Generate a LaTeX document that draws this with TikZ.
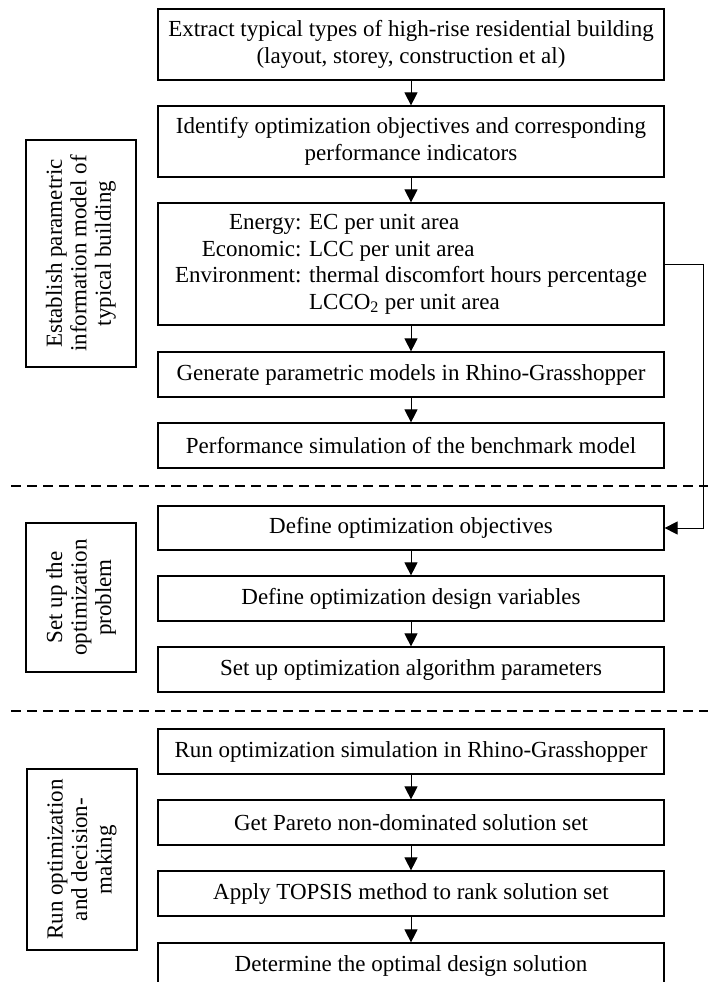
\documentclass[tikz,border=0pt]{standalone}
\usepackage{fontspec}
\setmainfont{Liberation Serif}
\usetikzlibrary{arrows.meta}
\begin{document}
\begin{tikzpicture}[x=1pt,y=-1pt,
  txt/.style={font=\fontsize{23}{26.5}\selectfont},
  box/.style={draw, line width=1.2pt, minimum width=506pt, inner sep=0pt, align=center, txt},
  lab/.style={draw, line width=1.2pt, rotate=90, minimum height=110pt, inner sep=0pt, align=center, font=\fontsize{23}{24.5}\selectfont},
  arr/.style={line width=1pt, -{Triangle[length=13pt,width=13pt]}},
  sep/.style={line width=2.5pt, dash pattern=on 10pt off 6pt}]
\useasboundingbox (0,0) rectangle (708,982);
\clip (0,0) rectangle (708,982);
% main column
\node[box, minimum height=71pt] (B1) at (411,44.5) {Extract typical types of high-rise residential building\\(layout, storey, construction et al)};
\node[box, minimum height=71pt] (B2) at (411,141.5) {Identify optimization objectives and corresponding\\performance indicators};
\node[box, minimum height=122pt] (B3) at (411,264) {\begin{tabular}{@{}r@{ }l@{}}Energy:&EC per unit area\\Economic:&LCC per unit area\\Environment:&thermal discomfort hours percentage\\&LCCO\textsubscript{2} per unit area\end{tabular}};
\node[box, minimum height=45pt] (B4) at (411,374.5) {Generate parametric models in Rhino-Grasshopper};
\node[box, minimum height=45pt] (B5) at (411,445.5) {Performance simulation of the benchmark model};
\node[box, minimum height=44pt] (B6) at (411,528) {Define optimization objectives};
\node[box, minimum height=45pt] (B7) at (411,598.5) {Define optimization design variables};
\node[box, minimum height=45pt] (B8) at (411,669.5) {Set up optimization algorithm parameters};
\node[box, minimum height=45pt] (B9) at (411,751.5) {Run optimization simulation in Rhino-Grasshopper};
\node[box, minimum height=45pt] (B10) at (411,822.5) {Get Pareto non-dominated solution set};
\node[box, minimum height=45pt] (B11) at (411,893.5) {Apply TOPSIS method to rank solution set};
\node[box, minimum height=45pt] (B12) at (411,965.5) {Determine the optimal design solution};
% side labels
\node[lab, minimum width=227pt] (L1) at (81,253.5) {Establish parametric\\information model of\\typical building};
\node[lab, minimum width=149pt] (L2) at (81,597.5) {Set up the\\optimization\\problem};
\node[lab, minimum width=181pt] (L3) at (82,859.5) {Run optimization\\and decision-\\making};
% arrows
\draw[arr] (B1) -- (B2);
\draw[arr] (B2) -- (B3);
\draw[arr] (B3) -- (B4);
\draw[arr] (B4) -- (B5);
\draw[arr] (B6) -- (B7);
\draw[arr] (B7) -- (B8);
\draw[arr] (B9) -- (B10);
\draw[arr] (B10) -- (B11);
\draw[arr] (B11) -- (B12);
\coordinate (side) at (703,0);
\draw[arr] (B3.east) -- (B3.east -| side) -- (B6.east -| side) -- (B6.east);
% separators
\coordinate (s1l) at (11,486);
\coordinate (s1r) at (708,486);
\coordinate (s2l) at (11,711);
\coordinate (s2r) at (708,711);
\draw[sep] (s1l) -- (s1r);
\draw[sep] (s2l) -- (s2r);
\end{tikzpicture}
\end{document}
